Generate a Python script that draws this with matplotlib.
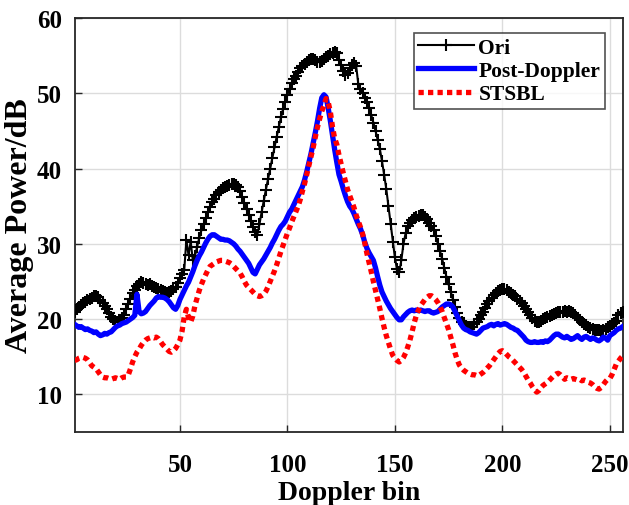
import numpy as np
import matplotlib
matplotlib.use("Agg")
import matplotlib.pyplot as plt

bins = np.arange(1, 257)

ori = [
    21.0, 21.3, 21.6, 21.9, 22.2, 22.3, 22.5, 22.7, 22.8, 23.0, 23.1, 22.9, 22.6, 22.1, 21.7, 21.3,
    20.8, 20.3, 20.0, 19.8, 19.6, 19.7, 20.1, 20.6, 21.3, 22.0, 22.7, 23.4, 23.9, 24.4, 24.7, 24.9,
    24.8, 24.7, 24.5, 24.6, 24.4, 24.2, 24.1, 24.0, 23.9, 23.7, 23.6, 23.5, 23.6, 23.7, 24.0, 24.3,
    24.8, 25.5, 26.0, 26.5, 30.5, 28.5, 30.3, 27.8, 28.4, 29.6, 30.8, 31.8, 32.6, 33.4, 34.2, 34.9,
    35.5, 36.0, 36.5, 36.9, 37.2, 37.4, 37.6, 37.7, 37.8, 37.9, 38.0, 37.8, 37.5, 37.0, 36.2, 35.4,
    34.6, 33.8, 33.0, 32.2, 31.6, 31.2, 32.6, 34.2, 35.7, 37.2, 38.6, 40.0, 41.4, 42.8, 44.2, 45.5,
    46.8, 47.9, 48.9, 49.8, 50.6, 51.3, 51.9, 52.3, 52.8, 53.3, 53.6, 53.9, 54.2, 54.4, 54.5, 54.6,
    54.4, 54.2, 54.1, 54.3, 54.6, 54.8, 55.0, 55.2, 55.4, 55.5, 55.3, 54.4, 53.8, 53.0, 52.4, 52.7,
    53.3, 53.8, 54.0, 53.6, 51.2, 50.6, 50.0, 49.4, 48.8, 48.0, 47.1, 46.1, 45.0, 43.8, 42.6, 41.0,
    39.2, 37.3, 35.0, 32.6, 30.3, 28.2, 26.6, 26.2, 27.8, 30.0, 31.4, 32.3, 32.8, 33.2, 33.4, 33.6,
    33.7, 33.8, 33.8, 33.6, 33.3, 32.8, 32.3, 31.8, 31.0, 30.0, 29.0, 28.0, 26.8, 25.6, 24.6, 23.6,
    22.6, 21.6, 20.8, 20.2, 19.6, 19.3, 19.1, 19.0, 18.9, 19.0, 19.3, 19.6, 20.0, 20.5, 21.0, 21.5,
    22.0, 22.4, 22.8, 23.2, 23.5, 23.7, 23.9, 24.0, 24.0, 23.8, 23.6, 23.4, 23.2, 23.0, 22.7, 22.4,
    22.1, 21.8, 21.4, 21.0, 20.6, 20.2, 19.8, 19.6, 19.6, 19.8, 20.0, 20.2, 20.3, 20.4, 20.6, 20.7,
    20.8, 20.9, 21.0, 21.0, 21.1, 21.0, 21.1, 21.0, 20.8, 20.5, 20.2, 19.9, 19.6, 19.4, 19.2, 19.0,
    18.8, 18.7, 18.6, 18.6, 18.5, 18.4, 18.5, 18.7, 18.9, 19.1, 19.3, 19.5, 19.8, 20.6, 20.8, 21.0,
]

post_doppler = [
    19.3, 19.1, 18.9, 19.0, 18.8, 18.6, 18.7, 18.5, 18.4, 18.2, 18.3, 18.0, 17.8, 17.9, 18.1, 18.0,
    18.2, 18.3, 18.6, 18.9, 19.1, 19.2, 19.4, 19.5, 19.6, 19.8, 20.0, 20.2, 20.5, 23.3, 21.0, 20.7,
    20.8, 21.0, 21.4, 21.8, 22.1, 22.4, 22.8, 23.0, 22.9, 22.9, 22.8, 22.6, 22.3, 21.9, 21.5, 21.3,
    21.8, 22.6, 23.2, 23.8, 24.4, 24.9, 25.6, 26.3, 27.1, 27.8, 28.4, 28.9, 29.5, 30.1, 30.6, 31.0,
    31.2, 31.2, 31.0, 30.8, 30.6, 30.6, 30.5, 30.5, 30.4, 30.2, 30.0, 29.7, 29.3, 29.0, 28.6, 28.2,
    27.8, 27.4, 26.8, 26.2, 26.0, 26.6, 27.2, 27.6, 28.0, 28.5, 29.0, 29.5, 30.1, 30.6, 31.2, 31.8,
    32.3, 32.6, 33.0, 33.6, 34.2, 34.6, 35.2, 35.8, 36.4, 37.0, 37.6, 38.5, 39.6, 40.8, 42.0, 43.4,
    44.8, 46.3, 48.0, 49.4, 49.8, 49.5, 48.0, 46.3, 44.4, 42.5, 40.8, 39.2, 38.3, 37.3, 36.4, 35.6,
    35.0, 34.6, 34.0, 33.3, 32.6, 32.0, 31.2, 30.2, 29.4, 28.8, 28.3, 27.8, 26.8, 25.6, 24.5, 23.6,
    23.0, 22.4, 21.9, 21.4, 21.0, 20.6, 20.2, 19.9, 19.9, 20.3, 20.6, 20.9, 21.1, 21.2, 21.1, 21.2,
    21.1, 21.2, 21.1, 21.0, 21.1, 21.1, 20.9, 20.8, 20.9, 21.0, 21.3, 21.6, 21.8, 22.0, 22.0, 21.9,
    21.6, 21.0, 20.4, 19.8, 19.2, 18.8, 18.6, 18.5, 18.3, 18.2, 18.1, 18.0, 18.2, 18.5, 18.8, 18.9,
    19.0, 19.2, 19.3, 19.1, 19.3, 19.4, 19.2, 19.3, 19.4, 19.3, 19.1, 18.9, 18.8, 18.6, 18.5, 18.2,
    17.9, 17.6, 17.2, 17.0, 16.9, 16.9, 17.0, 16.9, 16.9, 17.0, 16.9, 17.1, 17.0, 17.2, 17.5, 17.8,
    18.0, 18.0, 17.8, 17.6, 17.5, 17.7, 17.5, 17.3, 17.4, 17.6, 17.8, 17.5, 17.3, 17.6, 17.7, 17.5,
    17.3, 17.5, 17.4, 17.2, 17.1, 17.3, 17.6, 17.5, 17.2, 17.8, 18.0, 18.2, 18.5, 18.7, 18.8, 19.0,
]

stsbl = [
    14.5, 14.6, 14.8, 14.9, 14.9, 14.8, 14.6, 14.2, 13.8, 13.6, 13.4, 13.0, 12.6, 12.3, 12.2, 12.2,
    12.1, 12.0, 12.1, 12.2, 12.1, 12.0, 12.2, 12.3, 12.3, 12.6, 13.4, 14.3, 15.0, 15.6, 16.0, 16.5,
    16.9, 17.2, 17.4, 17.5, 17.6, 17.5, 17.6, 17.4, 17.0, 16.6, 16.3, 16.0, 15.7, 15.6, 15.8, 16.1,
    16.6, 17.2, 18.4, 20.3, 21.3, 20.2, 19.6, 20.4, 21.8, 22.8, 23.8, 24.6, 25.3, 25.9, 26.5, 27.0,
    27.2, 27.4, 27.6, 27.7, 27.8, 27.8, 27.7, 27.6, 27.5, 27.3, 27.0, 26.7, 26.4, 26.1, 25.6, 25.0,
    24.5, 24.2, 23.9, 23.6, 23.3, 23.1, 23.0, 23.1, 23.3, 23.7, 24.3, 25.0, 25.7, 26.4, 27.2, 28.1,
    29.0, 29.8, 30.6, 31.4, 32.1, 32.9, 33.6, 34.3, 35.0, 35.9, 37.0, 38.0, 39.2, 40.4, 41.6, 42.8,
    44.2, 45.5, 46.6, 47.6, 48.4, 49.3, 48.8, 47.5, 45.5, 44.0, 43.2, 41.8, 40.6, 39.4, 38.3, 37.2,
    36.4, 35.6, 34.8, 33.8, 33.0, 32.2, 31.3, 30.1, 28.7, 27.5, 26.3, 25.0, 23.8, 22.6, 21.4, 20.1,
    18.9, 17.8, 16.9, 16.0, 15.2, 14.8, 14.5, 14.3, 14.5, 14.9, 15.5, 16.3, 17.2, 18.3, 19.5, 20.5,
    21.2, 21.8, 22.2, 22.6, 22.9, 23.1, 23.1, 22.9, 22.6, 22.2, 21.7, 21.0, 20.2, 19.4, 18.6, 17.6,
    16.6, 15.5, 14.6, 13.9, 13.5, 13.2, 13.0, 12.8, 12.7, 12.6, 12.6, 12.5, 12.5, 12.7, 12.9, 13.2,
    13.5, 13.8, 14.2, 14.6, 15.0, 15.4, 15.7, 15.8, 15.6, 15.3, 15.0, 14.8, 14.5, 14.2, 13.9, 13.6,
    13.3, 12.9, 12.4, 11.9, 11.5, 11.0, 10.6, 10.3, 10.5, 10.9, 11.2, 11.4, 11.6, 11.9, 12.2, 12.5,
    12.7, 12.8, 12.6, 12.3, 12.0, 12.2, 12.1, 12.0, 12.1, 12.0, 11.9, 12.0, 11.8, 11.9, 11.8, 11.6,
    11.5, 11.3, 11.0, 10.8, 10.7, 10.9, 11.3, 11.7, 12.0, 12.1, 12.6, 13.3, 14.0, 14.4, 14.8, 15.1,
]

xticks = [50, 100, 150, 200, 250]
yticks = [10, 20, 30, 40, 50, 60]
labels = ["Ori", "Post-Doppler", "STSBL"]

plt.rcParams['font.family'] = ['Liberation Serif', 'DejaVu Serif']
plt.rcParams['font.weight'] = 'bold'

fig = plt.figure(figsize=(6.29, 5.06), dpi=100)
ax = fig.add_axes([0.1186, 0.1443, 0.8714, 0.8182])

ax.plot(bins, ori, color='black', lw=1.5, marker='+', ms=9, mew=1.5, label=labels[0], zorder=3)
ax.plot(bins, post_doppler, color='blue', lw=3.8, label=labels[1], zorder=4)
ax.plot(bins, stsbl, color='red', lw=3.8, dashes=(1.0, 0.8), label=labels[2], zorder=5)

ax.set_xlim(1, 256)
ax.set_ylim(5, 60)
ax.set_xticks(xticks)
ax.set_yticks(yticks)
ax.grid(True, color='#dcdcdc', lw=1.0)
ax.set_axisbelow(True)
for s in ax.spines.values():
    s.set_color('#262626')
    s.set_linewidth(1.3)
ax.tick_params(direction='in', length=5, width=1.0, colors='#262626', labelsize=18, labelcolor='black')
ax.tick_params(axis='x', pad=15)
ax.tick_params(axis='y', pad=9)
for lab in ax.get_xticklabels() + ax.get_yticklabels():
    lab.set_fontweight('bold')

ax.set_xlabel('Doppler bin', fontsize=20, fontweight='bold')
ax.set_ylabel('Average Power/dB', fontsize=23, fontweight='bold')
ax.xaxis.set_label_coords(0.5, -0.115)
ax.yaxis.set_label_coords(-0.074, 0.5)

leg = ax.legend(loc='upper right', bbox_to_anchor=(0.967, 0.963),
                prop={'weight': 'bold', 'size': 15.5}, frameon=True, fancybox=False,
                edgecolor='#262626', handlelength=2.6, handletextpad=0.2,
                borderpad=0.2, labelspacing=0.15, borderaxespad=0)
leg.get_frame().set_linewidth(1.2)

fig.savefig('out.png', dpi=100)
